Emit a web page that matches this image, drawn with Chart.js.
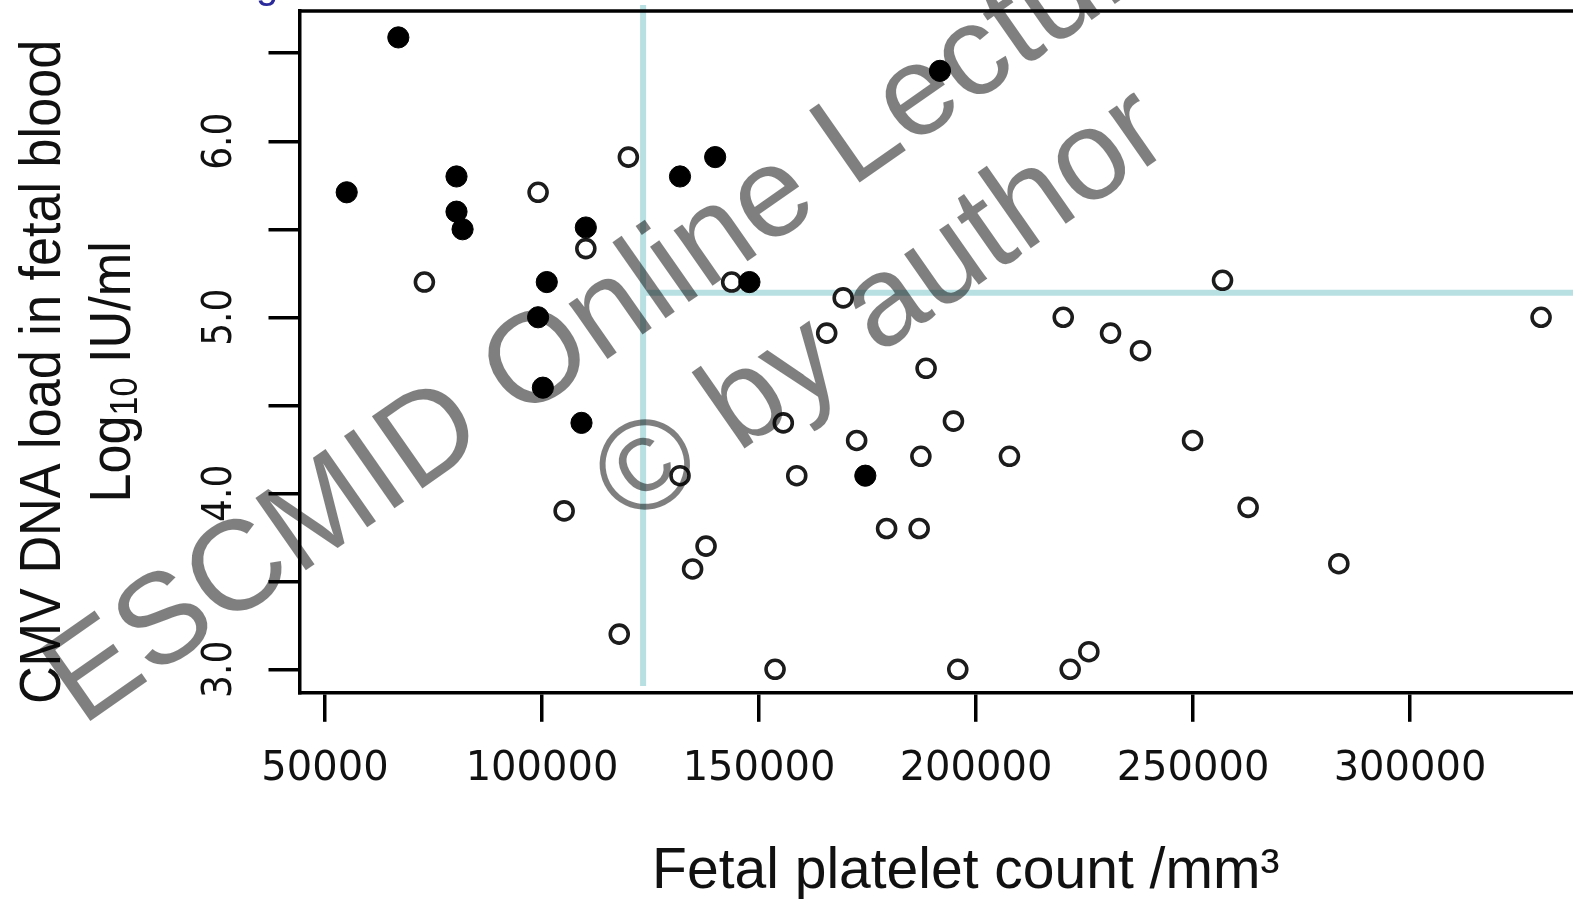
<!DOCTYPE html>
<html>
<head>
<meta charset="utf-8">
<title>CMV DNA load vs fetal platelet count</title>
<script src="https://cdn.jsdelivr.net/npm/chart.js@4.4.1/dist/chart.umd.min.js"></script>
<style>
  html, body { margin: 0; padding: 0; background: #fff; overflow: hidden; }
  #wrap { width: 1573px; height: 899px; overflow: hidden; position: relative; }
  canvas { display: block; }
</style>
</head>
<body>
<div id="wrap"><canvas id="plot" width="1632" height="899"></canvas></div>
<script>
// ---- data ----
// filled dots
const filledPlatelets = [55000, 66900, 80300, 80300, 81700, 110100, 101100, 99100, 100200, 109100, 131800, 139900, 147800, 191700, 174500];
const filledLoad      = [5.71, 6.59, 5.80, 5.60, 5.50, 5.51, 5.20, 5.00, 4.60, 4.40, 5.80, 5.91, 5.20, 6.40, 4.10];

// open circles
const openPlatelets = [72900, 99100, 119900, 110100, 143700, 169400, 165600, 256800, 220100, 231000, 237900, 330200,
                       188500, 194800, 155600, 172500, 249900, 187300, 207700, 131800, 158700, 105100, 262700,
                       179400, 186900, 137800, 134700, 283600, 117800, 153700, 195800, 221700, 226000];
const openLoad      = [5.20, 5.71, 5.91, 5.39, 5.20, 5.11, 4.91, 5.21, 5.00, 4.91, 4.81, 5.00,
                       4.71, 4.41, 4.40, 4.30, 4.30, 4.21, 4.21, 4.10, 4.10, 3.90, 3.92,
                       3.80, 3.80, 3.70, 3.57, 3.60, 3.20, 3.00, 3.00, 3.00, 3.10];

// cut-off lines
const cutoffPlatelets = 123300;
const cutoffLoad = 5.14;

const xTicks = [50000, 100000, 150000, 200000, 250000, 300000];
const xTickLabels = ['50000', '100000', '150000', '200000', '250000', '300000'];
const yTicks = [3.0, 3.5, 4.0, 4.5, 5.0, 5.5, 6.0, 6.5];
const yTickLabels = ['3.0', '', '4.0', '', '5.0', '', '6.0', ''];

const xTitle = 'Fetal platelet count /mm³';
const yTitleTop = 'CMV DNA load in fetal blood';
const yTitleBottom = ['Log', '10', ' IU/ml'];   // "10" is a subscript
const watermark = ['ESCMID Online Lecture Library', '© by author'];

// ---- helpers ----
const pts = (xs, ys) => xs.map((x, i) => ({ x: x, y: ys[i] }));

// top side of the box (the right side is off the picture)
const boxTop = {
  id: 'boxTop',
  afterDatasetsDraw(chart) {
    const { ctx, chartArea } = chart;
    ctx.save();
    ctx.strokeStyle = '#000';
    ctx.lineWidth = 3.5;
    ctx.beginPath();
    ctx.moveTo(chartArea.left - 1.5, chartArea.top);
    ctx.lineTo(chartArea.right, chartArea.top);
    ctx.stroke();
    ctx.restore();
  }
};

// two-line rotated y title, with subscript on the second line
const yTitlePlugin = {
  id: 'yTitle',
  afterDraw(chart) {
    const { ctx, chartArea } = chart;
    const cy = (chartArea.top + chartArea.bottom) / 2 + 20;
    const font = '58px "Liberation Sans", Arial, sans-serif';
    const subFont = '38px "Liberation Sans", Arial, sans-serif';
    ctx.save();
    ctx.fillStyle = '#111';
    ctx.textBaseline = 'alphabetic';

    ctx.save();
    ctx.translate(60, cy);
    ctx.rotate(-Math.PI / 2);
    ctx.scale(0.9, 1);
    ctx.font = font;
    ctx.textAlign = 'center';
    ctx.fillText(yTitleTop, 0, 0);
    ctx.restore();

    ctx.save();
    ctx.translate(129.5, cy);
    ctx.rotate(-Math.PI / 2);
    ctx.scale(0.9, 1);
    ctx.textAlign = 'left';
    ctx.font = font;
    const w1 = ctx.measureText(yTitleBottom[0]).width;
    const w3 = ctx.measureText(yTitleBottom[2]).width;
    ctx.font = subFont;
    const w2 = ctx.measureText(yTitleBottom[1]).width;
    let x0 = -(w1 + w2 + w3) / 2;
    ctx.font = font;
    ctx.fillText(yTitleBottom[0], x0, 0);
    ctx.font = subFont;
    ctx.fillText(yTitleBottom[1], x0 + w1, 7);
    ctx.font = font;
    ctx.fillText(yTitleBottom[2], x0 + w1 + w2, 0);
    ctx.restore();

    ctx.restore();
  }
};

// watermark over everything
const watermarkPlugin = {
  id: 'watermark',
  afterDraw(chart) {
    const { ctx } = chart;
    ctx.save();
    // fragment of the slide heading above the figure
    ctx.fillStyle = '#2a2a9c';
    ctx.font = '40px "Liberation Sans", Arial, sans-serif';
    ctx.textAlign = 'left';
    ctx.fillText('g', 256, -2);

    ctx.translate(816, 213);
    ctx.rotate(-35 * Math.PI / 180);
    ctx.font = '128px "Liberation Sans", Arial, sans-serif';
    ctx.fillStyle = 'rgba(0, 0, 0, 0.5)';
    ctx.textAlign = 'center';
    ctx.textBaseline = 'alphabetic';
    ctx.fillText(watermark[0], 0, 0);
    ctx.fillText(watermark[1], 0, 152);
    ctx.restore();
  }
};

const lineBlue = '#b8dfe2';

new Chart(document.getElementById('plot'), {
  type: 'scatter',
  data: {
    datasets: [
      {
        data: pts(filledPlatelets, filledLoad),
        pointRadius: 10.6,
        backgroundColor: '#000',
        borderColor: '#000',
        borderWidth: 1
      },
      {
        data: pts(openPlatelets, openLoad),
        pointRadius: 9,
        backgroundColor: '#fff',
        borderColor: '#1c1c1c',
        borderWidth: 3.6
      },
      {
        data: [{ x: cutoffPlatelets, y: cutoffLoad }, { x: 351150, y: cutoffLoad }],
        showLine: true,
        borderColor: lineBlue,
        borderWidth: 6,
        pointRadius: 0,
        clip: false
      },
      {
        data: [{ x: cutoffPlatelets, y: 6.774 }, { x: cutoffPlatelets, y: 2.905 }],
        showLine: true,
        borderColor: lineBlue,
        borderWidth: 6,
        pointRadius: 0,
        clip: false
      }
    ]
  },
  options: {
    responsive: false,
    devicePixelRatio: 1,
    animation: false,
    events: [],
    layout: { autoPadding: false, padding: { top: 11, left: 0, right: 0, bottom: 0 } },
    plugins: {
      legend: { display: false },
      tooltip: { enabled: false }
    },
    scales: {
      x: {
        type: 'linear',
        position: 'bottom',
        min: 44125,
        max: 351150,
        afterBuildTicks: (s) => { s.ticks = xTicks.map(v => ({ value: v })); },
        afterFit: (s) => { s.height = 206.2; s.paddingLeft = 0; s.paddingRight = 0; },
        grid: { drawOnChartArea: false, drawTicks: true, tickLength: 29, lineWidth: 3.5, color: '#000', tickColor: '#000' },
        border: { display: true, color: '#000', width: 3.5 },
        ticks: {
          autoSkip: false,
          maxRotation: 0,
          padding: 23.7,
          color: '#111',
          font: { family: '"DejaVu Sans", sans-serif', size: 40 },
          callback: (v, i) => xTickLabels[i]
        },
        title: {
          display: true,
          text: xTitle,
          color: '#111',
          font: { family: '"Liberation Sans", Arial, sans-serif', size: 57, lineHeight: 0.94 },
          padding: { top: 0, bottom: 0 }
        }
      },
      y: {
        type: 'linear',
        position: 'left',
        min: 2.8665,
        max: 6.74,
        afterBuildTicks: (s) => { s.ticks = yTicks.map(v => ({ value: v })); },
        afterFit: (s) => { s.width = 299.5; s.paddingTop = 0; s.paddingBottom = 0; },
        grid: { drawOnChartArea: false, drawTicks: true, tickLength: 31, lineWidth: 3.5, color: '#000', tickColor: '#000' },
        border: { display: true, color: '#000', width: 3.5 },
        ticks: {
          autoSkip: false,
          minRotation: 90,
          maxRotation: 90,
          crossAlign: 'center',
          padding: 19.5,
          color: '#111',
          font: { family: '"DejaVu Sans Condensed", "Liberation Sans", sans-serif', size: 40, lineHeight: 0.1 },
          callback: (v, i) => yTickLabels[i]
        },
        title: { display: false }
      }
    }
  },
  plugins: [boxTop, yTitlePlugin, watermarkPlugin]
});
</script>
</body>
</html>
